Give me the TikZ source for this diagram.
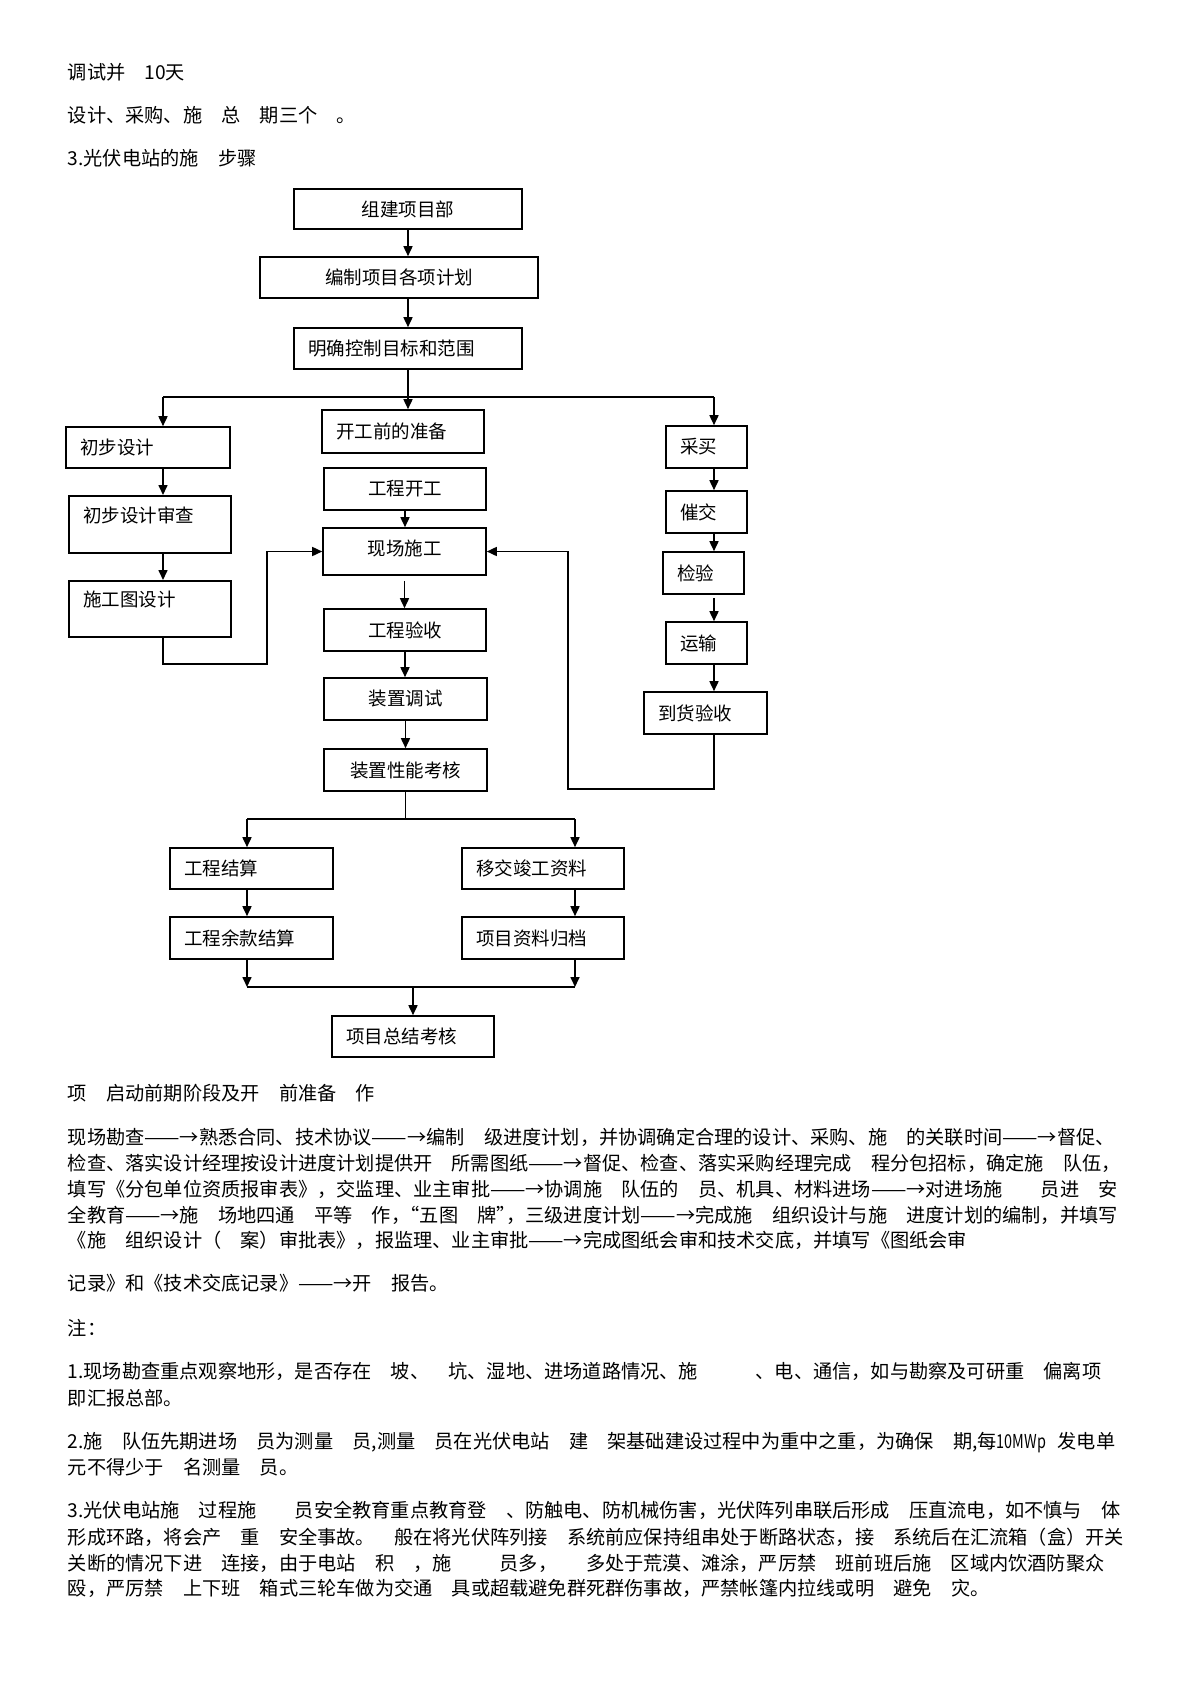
\documentclass[tikz,border=0pt]{standalone}
\usepackage{graphicx}
\usepackage{fontspec}
\newfontfamily\cjk{Noto Sans CJK SC}
\usetikzlibrary{arrows.meta, positioning}
\newcommand{\kong}[1][1]{\hspace*{#1em}}
\newcommand{\jiantou}{\scalebox{1.1}[1]{——}→}
\newcommand{\zuoyin}{\makebox[0.5em][r]{“}}
\newcommand{\youyin}{\makebox[0.5em][l]{”}}
\newcommand{\bodyfont}{\cjk\fontsize{19.2}{22}\selectfont}
\newcommand{\boxfont}{\cjk\fontsize{18.5}{22}\selectfont}

\begin{document}
\begin{tikzpicture}[x=1pt, y=-1pt, >={Triangle[width=9pt,length=10pt]}, line width=1.6pt,
    box/.style={draw, line width=1.6pt, inner ysep=0pt, minimum height=42pt, font=\boxfont},
    lbox/.style={box, inner xsep=14pt, align=left, text width=#1},
    txt/.style={anchor=base west, inner sep=0pt, font=\bodyfont}]
    \useasboundingbox[fill=white] (0,0) rectangle (1190,1684);

    % text above the chart
    \node[txt] (l1) at (67,79) {调试并\kong 10天};
    \node[txt] (l2) at (67,122) {设计、采购、施\kong 总\kong 期三个\kong 。};
    \node[txt] (l3) at (67,165) {3.光伏电站的施\kong 步骤};

    % main column
    \node[box, minimum width=228pt, minimum height=40pt] (zj) at (408,209) {组建项目部};
    \node[box, minimum width=278pt, minimum height=41pt] (bz) at (399,277.5) {编制项目各项计划};
    \node[lbox=200pt, minimum height=41pt] (mq) at (408,348.5) {明确控制目标和范围};
    \node[lbox=134pt, minimum height=43pt] (zb) at (403,431.5) {开工前的准备};
    \node[box, minimum width=162pt] (kg) at (405,489) {工程开工};
    \node[box, minimum width=163pt, minimum height=47pt, text depth=8pt] (xc) at (404.5,551.5) {现场施工};
    \node[box, minimum width=162pt] (ys) at (405,630) {工程验收};
    \node[box, minimum width=163pt] (ts) at (405.5,699) {装置调试};
    \node[box, minimum width=163pt] (kh) at (405.5,770) {装置性能考核};

    % design column
    \node[lbox=136pt, minimum height=41pt] (cb) at (148,447.5) {初步设计};
    \node[lbox=134pt, text height=27pt, text depth=30pt, anchor=north] (cs) at (150,495) {初步设计审查};
    \node[lbox=134pt, text height=26pt, text depth=30pt, anchor=north] (st) at (150,580) {施工图设计};

    % purchase column
    \node[lbox=53pt] (cm) at (706.5,447) {采买};
    \node[lbox=53pt] (cj) at (706.5,512) {催交};
    \node[lbox=53pt] (jy) at (703.5,573) {检验};
    \node[lbox=53pt] (sy) at (706.5,643) {运输};
    \node[lbox=95pt] (dh) at (705.5,713) {到货验收};

    % closing
    \node[lbox=135pt, minimum height=41pt] (gj) at (251.5,868.5) {工程结算};
    \node[lbox=134pt, minimum height=41pt] (yj) at (543,868.5) {移交竣工资料};
    \node[lbox=135pt] (yk) at (251.5,938) {工程余款结算};
    \node[lbox=134pt] (gd) at (543,938) {项目资料归档};
    \node[lbox=134pt, minimum height=41pt] (zk) at (413,1036.5) {项目总结考核};

    \coordinate (brL) at (163,397);
    \coordinate (brR) at (714,397);
    \coordinate (lpL) at (267,664);
    \coordinate (lpR) at (568,789);
    \coordinate (brL2) at (247,819);
    \coordinate (brR2) at (575,819);
    \coordinate (mgL) at (247,987);
    \coordinate (mgR) at (575,987);

    \draw[->] (zj.south) -- (zj.south |- bz.north);
    \draw[->] (zj.south |- bz.south) -- (mq.north);
    \draw (mq.south) -- (mq.south |- brL);
    \draw (brL) -- (brR);
    \draw[->] (mq.south |- brL) -- (mq.south |- zb.north);
    \draw[->] (brL) -- (brL |- cb.north);
    \draw[->] (brR) -- (brR |- cm.north);

    \draw[->] (brL |- cb.south) -- (brL |- cs.north);
    \draw[->] (brL |- cs.south) -- (brL |- st.north);
    \draw[->] (brL |- st.south) |- (lpL) |- (xc.west);

    \draw[->] (kg.south) -- (kg.south |- xc.north);
    \draw[->] ([yshift=-5pt]xc.south) -- (xc.south |- ys.north);
    \draw[->] (ys.south) -- (ys.south |- ts.north);
    \draw[->] (ts.south) -- (kh.north);

    \draw[->] (brR |- cm.south) -- (brR |- cj.north);
    \draw[->] (brR |- cj.south) -- (brR |- jy.north);
    \draw[->] ([yshift=-3pt]brR |- jy.south) -- (brR |- sy.north);
    \draw[->] (brR |- sy.south) -- (brR |- dh.north);
    \draw[->] (brR |- dh.south) |- (lpR) |- (xc.east);

    \draw (kh.south) -- (kh.south |- brL2);
    \draw (brL2) -- (brR2);
    \draw[->] (brL2) -- (brL2 |- gj.north);
    \draw[->] (brR2) -- (brR2 |- yj.north);
    \draw[->] (brL2 |- gj.south) -- (brL2 |- yk.north);
    \draw[->] (brR2 |- yj.south) -- (brR2 |- gd.north);
    \draw[->] (brL2 |- yk.south) -- (mgL);
    \draw[->] (brR2 |- gd.south) -- (mgR);
    \draw (mgL) -- (mgR);
    \draw[->] (zk.north |- mgL) -- (zk.north);

    % text below the chart
    \node[txt] (l4) at (67,1100) {项\kong 启动前期阶段及开\kong 前准备\kong 作};
    \node[txt] (p1) at (67,1144) {现场勘查\jiantou 熟悉合同、技术协议\jiantou 编制\kong 级进度计划，并协调确定合理的设计、采购、施\kong 的关联时间\jiantou 督促、};
    \node[txt] (p2) at (67,1170) {检查、落实设计经理按设计进度计划提供开\kong 所需图纸\jiantou 督促、检查、落实采购经理完成\kong 程分包招标，确定施\kong 队伍，};
    \node[txt] (p3) at (67,1196) {填写《分包单位资质报审表》，交监理、业主审批\jiantou 协调施\kong 队伍的\kong 员、机具、材料进场\jiantou 对进场施\kong[2]员进\kong 安};
    \node[txt] (p4) at (67,1222) {全教育\jiantou 施\kong 场地四通\kong 平等\kong 作，\zuoyin 五图\kong 牌\youyin ，三级进度计划\jiantou 完成施\kong 组织设计与施\kong 进度计划的编制，并填写};
    \node[txt] (p5) at (67,1247) {《施\kong 组织设计（\kong 案）审批表》，报监理、业主审批\jiantou 完成图纸会审和技术交底，并填写《图纸会审};
    \node[txt] (p6) at (67,1290) {记录》和《技术交底记录》\jiantou 开\kong 报告。};

    \node[txt] (n0) at (67,1335) {注：};
    \node[txt] (n1a) at (67,1378) {1.现场勘查重点观察地形，是否存在\kong 坡、\kong 坑、湿地、进场道路情况、施\kong[3]、电、通信，如与勘察及可研重\kong 偏离项};
    \node[txt] (n1b) at (67,1405) {即汇报总部。};
    \node[txt] (n2a) at (67,1448) {2.施\kong 队伍先期进场\kong 员为测量\kong 员,测量\kong 员在光伏电站\kong 建\kong 架基础建设过程中为重中之重，为确保\kong 期,每\scalebox{0.75}[1]{10MWp}\kong[0.6]发电单};
    \node[txt] (n2b) at (67,1474) {元不得少于\kong 名测量\kong 员。};
    \node[txt] (n3a) at (67,1517) {3.光伏电站施\kong 过程施\kong[2]员安全教育重点教育登\kong 、防触电、防机械伤害，光伏阵列串联后形成\kong 压直流电，如不慎与\kong 体};
    \node[txt] (n3b) at (67,1544) {形成环路，将会产\kong 重\kong 安全事故。\kong 般在将光伏阵列接\kong 系统前应保持组串处于断路状态，接\kong 系统后在汇流箱（盒）开关};
    \node[txt] (n3c) at (67,1570) {关断的情况下进\kong 连接，由于电站\kong 积\kong ，施\kong[2.5]员多，\kong[1.5]多处于荒漠、滩涂，严厉禁\kong 班前班后施\kong 区域内饮酒防聚众};
    \node[txt] (n3d) at (67,1595) {殴，严厉禁\kong 上下班\kong 箱式三轮车做为交通\kong 具或超载避免群死群伤事故，严禁帐篷内拉线或明\kong 避免\kong 灾。};
\end{tikzpicture}
\end{document}
